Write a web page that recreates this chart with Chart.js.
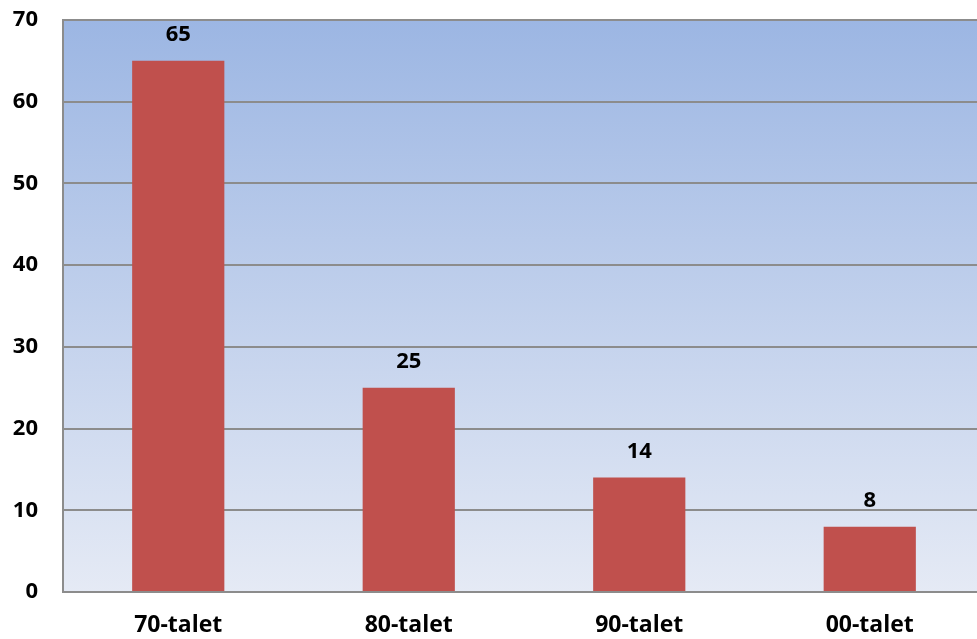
<!DOCTYPE html>
<html>
<head>
<meta charset="utf-8">
<script src="https://cdn.jsdelivr.net/npm/chart.js@4/dist/chart.umd.min.js"></script>
<style>
  html, body { margin: 0; padding: 0; background: #ffffff; overflow: hidden; }
  /* plot area runs a little past the right edge of the window, as in the original */
  #wrap { width: 985px; height: 639px; position: relative; }
</style>
</head>
<body>
<div id="wrap"><canvas id="chart"></canvas></div>
<script>
// data
const categories = ['70-talet', '80-talet', '90-talet', '00-talet'];
const values = [65, 25, 14, 8];
const yTicks = [0, 10, 20, 30, 40, 50, 60, 70];

const barColor = '#C0504D';
const gridColor = '#8c8c8c';

// gradient fill behind the plot area
const plotBackground = {
    id: 'plotBackground',
    beforeDraw(chart) {
        const { ctx, chartArea } = chart;
        const g = ctx.createLinearGradient(0, chartArea.top, 0, chartArea.bottom);
        g.addColorStop(0, '#9cb6e3');
        g.addColorStop(1, '#e5eaf5');
        ctx.save();
        ctx.fillStyle = g;
        ctx.fillRect(chartArea.left, chartArea.top, chartArea.right - chartArea.left, chartArea.bottom - chartArea.top);
        ctx.restore();
    }
};

// value labels above each bar
const valueLabels = {
    id: 'valueLabels',
    afterDatasetsDraw(chart) {
        const { ctx } = chart;
        const meta = chart.getDatasetMeta(0);
        ctx.save();
        ctx.font = 'bold 22px "Open Sans"';
        ctx.fillStyle = '#000000';
        ctx.textAlign = 'center';
        ctx.textBaseline = 'middle';
        meta.data.forEach((bar, i) => {
            ctx.fillText(String(values[i]), bar.x, bar.y - 26);
        });
        ctx.restore();
    }
};

new Chart(document.getElementById('chart'), {
    type: 'bar',
    data: {
        labels: categories,
        datasets: [{
            data: values,
            backgroundColor: barColor,
            borderWidth: 0,
            barPercentage: 0.4,
            categoryPercentage: 1
        }]
    },
    options: {
        responsive: true,
        maintainAspectRatio: false,
        animation: false,
        layout: { padding: { top: 20, right: 0, bottom: 0, left: 0 } },
        plugins: {
            legend: { display: false },
            tooltip: { enabled: false }
        },
        scales: {
            x: {
                grid: { display: false, drawTicks: false },
                border: { display: true, color: gridColor, width: 2 },
                ticks: {
                    color: '#000000',
                    font: { family: 'Open Sans', size: 23, weight: 'bold' },
                    padding: 20
                },
                afterFit(scale) { scale.height = 47; }
            },
            y: {
                min: 0,
                max: 70,
                afterBuildTicks(scale) {
                    scale.ticks = yTicks.map(v => ({ value: v }));
                },
                grid: { color: gridColor, lineWidth: 2, drawTicks: false },
                border: { display: true, color: gridColor, width: 2 },
                ticks: {
                    color: '#000000',
                    font: { family: 'Open Sans', size: 22, weight: 'bold' },
                    padding: 25
                },
                afterFit(scale) {
                    scale.width = 63;
                    scale.paddingTop = 0;
                    scale.paddingBottom = 0;
                }
            }
        }
    },
    plugins: [plotBackground, valueLabels]
});
</script>
</body>
</html>
